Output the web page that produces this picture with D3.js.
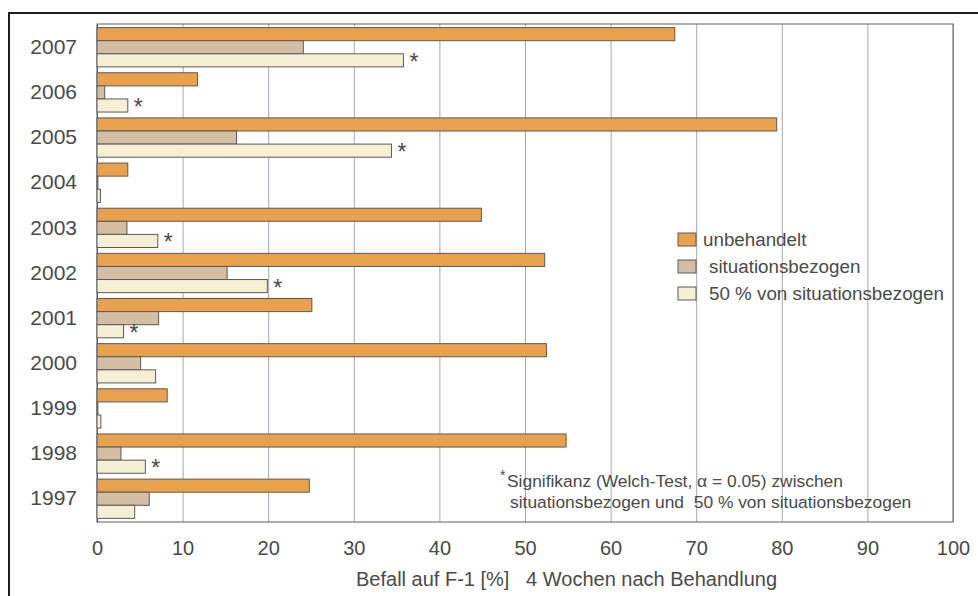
<!DOCTYPE html>
<html>
<head>
<meta charset="utf-8">
<script src="https://cdn.jsdelivr.net/npm/d3@7"></script>
<style>
  body { margin: 0; background: #fff; }
  text { font-family: "Liberation Sans", Arial, sans-serif; fill: #4a4a4a; }
</style>
</head>
<body>
<svg width="978" height="596"></svg>
<script>
// data (top to bottom)
const years = ['2007', '2006', '2005', '2004', '2003', '2002', '2001', '2000', '1999', '1998', '1997'];
const unbehandelt = [67.5, 11.75, 79.4, 3.6, 44.9, 52.3, 25.1, 52.5, 8.2, 54.8, 24.8];
const situationsbezogen = [24.1, 0.9, 16.3, 0.1, 3.5, 15.2, 7.2, 5.1, 0.1, 2.8, 6.1];
const halbSituationsbezogen = [35.8, 3.6, 34.4, 0.4, 7.1, 19.9, 3.1, 6.85, 0.45, 5.65, 4.4];
const signifikant = [true, true, true, false, true, true, true, false, false, true, false];
const seriesNames = ['unbehandelt', 'situationsbezogen', '50 % von situationsbezogen'];
const xTicks = [0, 10, 20, 30, 40, 50, 60, 70, 80, 90, 100];

const colors = ['#eaa14e', '#d3bea3', '#f5efd4'];
const seriesValues = [unbehandelt, situationsbezogen, halbSituationsbezogen];

const svg = d3.select('svg');
const width = +svg.attr('width');
const height = +svg.attr('height');

const margin = { top: 24, right: 25, bottom: 74, left: 97 };
const innerWidth = width - margin.left - margin.right;
const innerHeight = height - margin.top - margin.bottom;

// outer frame
svg.append('path')
    .attr('d', `M9,${height + 5}V13H${width + 5}`)
    .attr('fill', 'none')
    .attr('stroke', '#1e1e1e')
    .attr('stroke-width', 2);

const g = svg.append('g')
    .attr('transform', `translate(${margin.left},${margin.top})`);

const xScale = d3.scaleLinear()
    .domain([0, 100])
    .range([0, innerWidth]);

const yScale = d3.scaleBand()
    .domain(years)
    .range([0, innerHeight])
    .paddingInner(0.13)
    .paddingOuter(0.08);

const subScale = d3.scaleBand()
    .domain(d3.range(3))
    .range([0, yScale.bandwidth()]);

// grid lines
const xAxis = d3.axisBottom(xScale)
    .tickValues(xTicks)
    .tickSize(-innerHeight)
    .tickPadding(19)
    .tickFormat(d3.format('d'));

const xAxisG = g.append('g')
    .attr('transform', `translate(0,${innerHeight})`)
    .call(xAxis);
xAxisG.select('.domain').remove();
xAxisG.selectAll('.tick line')
    .attr('stroke', '#a4a7b2')
    .attr('stroke-width', 1);
xAxisG.selectAll('.tick text')
    .attr('font-size', 20)
    .attr('fill', '#555')
    .attr('font-family', '"Liberation Sans", Arial, sans-serif');

// plot frame
g.append('rect')
    .attr('width', innerWidth)
    .attr('height', innerHeight)
    .attr('fill', 'none')
    .attr('stroke', '#606060')
    .attr('stroke-width', 1);

const yAxis = d3.axisLeft(yScale)
    .tickSize(0)
    .tickPadding(20);

const yAxisG = g.append('g').call(yAxis);
yAxisG.select('.domain').attr('stroke', '#555');
yAxisG.selectAll('.tick text')
    .attr('font-size', 21)
    .attr('fill', '#4a4a4a')
    .attr('font-family', '"Liberation Sans", Arial, sans-serif');

// bars
const rows = years.map((y, i) => ({ year: y, values: seriesValues.map(s => s[i]), sig: signifikant[i] }));

const groups = g.selectAll('.year')
    .data(rows)
    .join('g')
    .attr('transform', d => `translate(0,${yScale(d.year)})`);

groups.selectAll('rect')
    .data(d => d.values.map((v, k) => ({ v, k })))
    .join('rect')
    .attr('x', 0)
    .attr('y', d => subScale(d.k))
    .attr('width', d => xScale(d.v))
    .attr('height', subScale.bandwidth())
    .attr('fill', d => colors[d.k])
    .attr('stroke', '#5a5a5a')
    .attr('stroke-width', 1);

// significance stars
groups.filter(d => d.sig)
    .append('text')
    .attr('x', d => xScale(d.values[2]) + 6)
    .attr('y', subScale(2) + 16)
    .attr('font-size', 23)
    .attr('fill', '#555')
    .text('*');

// legend
const legend = svg.append('g')
    .attr('transform', 'translate(678,233)');

const legendItems = legend.selectAll('g')
    .data(seriesNames)
    .join('g')
    .attr('transform', (d, i) => `translate(0,${i * 27})`);

legendItems.append('rect')
    .attr('width', 18)
    .attr('height', 13)
    .attr('fill', (d, i) => colors[i])
    .attr('stroke', '#5a5a5a');

legendItems.append('text')
    .attr('x', (d, i) => i === 0 ? 25 : 31)
    .attr('y', 13)
    .attr('font-size', 18.8)
    .text(d => d);

// footnote
const note = svg.append('g');
note.append('text')
    .attr('x', 500)
    .attr('y', 480)
    .attr('font-size', 14)
    .text('*');
note.append('text')
    .attr('x', 507)
    .attr('y', 487)
    .attr('font-size', 17.4)
    .text('Signifikanz (Welch-Test, \u03b1 = 0.05) zwischen');
note.append('text')
    .attr('x', 510)
    .attr('y', 508)
    .attr('font-size', 17.4)
    .attr('xml:space', 'preserve')
    .text('situationsbezogen und  50 % von situationsbezogen');

// axis title
svg.append('text')
    .attr('x', 356)
    .attr('y', 586)
    .attr('font-size', 20)
    .attr('xml:space', 'preserve')
    .text('Befall auf F-1 [%]   4 Wochen nach Behandlung');
</script>
</body>
</html>
